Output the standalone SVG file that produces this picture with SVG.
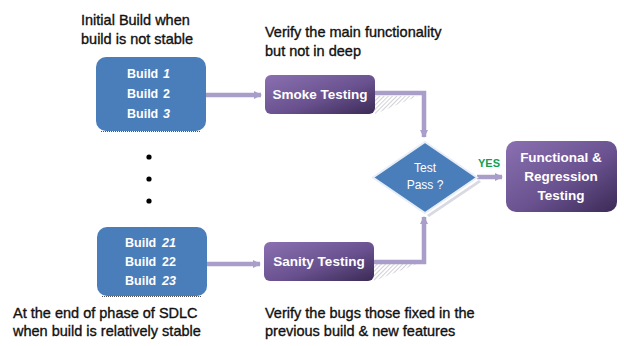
<svg xmlns="http://www.w3.org/2000/svg" width="624" height="346" viewBox="0 0 624 346">
<defs>
<style>
.note{font-family:"Liberation Sans",Arial,sans-serif;font-size:14.5px;fill:#111;stroke:#111;stroke-width:0.35;}
.bld{font-family:"Liberation Sans",Arial,sans-serif;font-size:12.5px;font-weight:bold;fill:#fff;}
.num{font-style:italic;}
.lbl{font-family:"Liberation Sans",Arial,sans-serif;font-size:13.5px;font-weight:bold;fill:#fff;text-anchor:middle;}
.dia{font-family:"Liberation Sans",Arial,sans-serif;font-size:12px;fill:#fff;text-anchor:middle;}
.blue{fill:#4a7ebb;}
.conn{fill:none;stroke:#a99dc9;stroke-width:4.5;}
.dots{fill:none;stroke:#555;stroke-width:1;stroke-dasharray:1 1;}
</style>
<linearGradient id="pg" x1="0" y1="0" x2="1" y2="1">
<stop offset="0" stop-color="#8a70b0"/>
<stop offset="0.55" stop-color="#6a5290"/>
<stop offset="1" stop-color="#3b2a55"/>
</linearGradient>
<pattern id="hatch" width="3" height="3" patternUnits="userSpaceOnUse" patternTransform="rotate(45)">
<rect width="3" height="3" fill="#fff"/>
<line x1="0" y1="0" x2="0" y2="3" stroke="#b8b8c4" stroke-width="1.3"/>
</pattern>
<marker id="ah" markerWidth="8" markerHeight="8" refX="7" refY="4" orient="auto" markerUnits="userSpaceOnUse">
<path d="M0,0 L8,4 L0,8 Z" fill="#a99dc9"/>
</marker>
</defs>
<rect width="624" height="346" fill="#fff"/>

<g id="shadows">
<polygon points="375,96 418,96 375,114" fill="url(#hatch)"/>
<polygon points="374,264 417,264 374,281" fill="url(#hatch)"/>
<polygon points="427,215 479,180 481,182 429,217" fill="#d9d9e2"/>
</g>

<g id="connectors">
<line class="conn" x1="206" y1="95" x2="261" y2="95" marker-end="url(#ah)"/>
<polyline class="conn" points="375,93 424,93 424,137" marker-end="url(#ah)"/>
<line class="conn" x1="207" y1="264" x2="260" y2="264" marker-end="url(#ah)"/>
<polyline class="conn" points="374,262 424,262 424,217" marker-end="url(#ah)"/>
<line class="conn" x1="477" y1="177" x2="502" y2="177" marker-end="url(#ah)"/>
</g>

<g id="build-initial">
<rect class="blue" x="96" y="57" width="110" height="74" rx="10"/>
<path class="dots" d="M101,131.5 H201"/>
<text class="bld" x="127" y="78">Build <tspan class="num" x="163">1</tspan></text>
<text class="bld" x="127" y="98">Build <tspan x="163">2</tspan></text>
<text class="bld" x="127" y="118">Build <tspan class="num" x="163">3</tspan></text>
</g>

<g id="ellipsis">
<circle cx="149" cy="157" r="2.6" fill="#000"/>
<circle cx="149" cy="179" r="2.6" fill="#000"/>
<circle cx="149" cy="201" r="2.6" fill="#000"/>
</g>

<g id="build-late">
<rect class="blue" x="97" y="227" width="110" height="69" rx="10"/>
<path class="dots" d="M102,296.5 H202"/>
<text class="bld" x="125" y="247">Build <tspan class="num" x="162">21</tspan></text>
<text class="bld" x="125" y="266">Build <tspan x="162">22</tspan></text>
<text class="bld" x="125" y="285">Build <tspan class="num" x="162">23</tspan></text>
</g>

<g id="smoke">
<rect x="265" y="75" width="110" height="39" rx="6" fill="url(#pg)"/>
<text class="lbl" x="320" y="99">Smoke Testing</text>
</g>

<g id="sanity">
<rect x="264" y="242" width="110" height="39" rx="6" fill="url(#pg)"/>
<text class="lbl" x="319" y="266">Sanity Testing</text>
</g>

<g id="decision">
<polygon points="425,142 477,177.5 425,213 373,177.5" fill="#4a7ebb" stroke="#e8eef7" stroke-width="2"/>
<text class="dia" x="425" y="172">Test</text>
<text class="dia" x="425" y="189">Pass ?</text>
</g>

<g id="yes-label">
<text x="478" y="167" font-family="'Liberation Sans',Arial,sans-serif" font-size="11px" font-weight="bold" fill="#10a050">YES</text>
</g>

<g id="functional">
<rect x="506" y="141" width="111" height="71" rx="10" fill="url(#pg)"/>
<text class="lbl" x="561" y="162">Functional &amp;</text>
<text class="lbl" x="561" y="181">Regression</text>
<text class="lbl" x="561" y="200">Testing</text>
</g>

<g id="notes">
<text class="note" x="81" y="25">Initial Build when</text>
<text class="note" x="81" y="44">build is not stable</text>
<text class="note" x="265" y="37">Verify the main functionality</text>
<text class="note" x="265" y="56">but not in deep</text>
<text class="note" x="13" y="318">At the end of phase of SDLC</text>
<text class="note" x="13" y="336">when build is relatively stable</text>
<text class="note" x="265" y="318">Verify the bugs those fixed in the</text>
<text class="note" x="265" y="336">previous build &amp; new features</text>
</g>
</svg>
